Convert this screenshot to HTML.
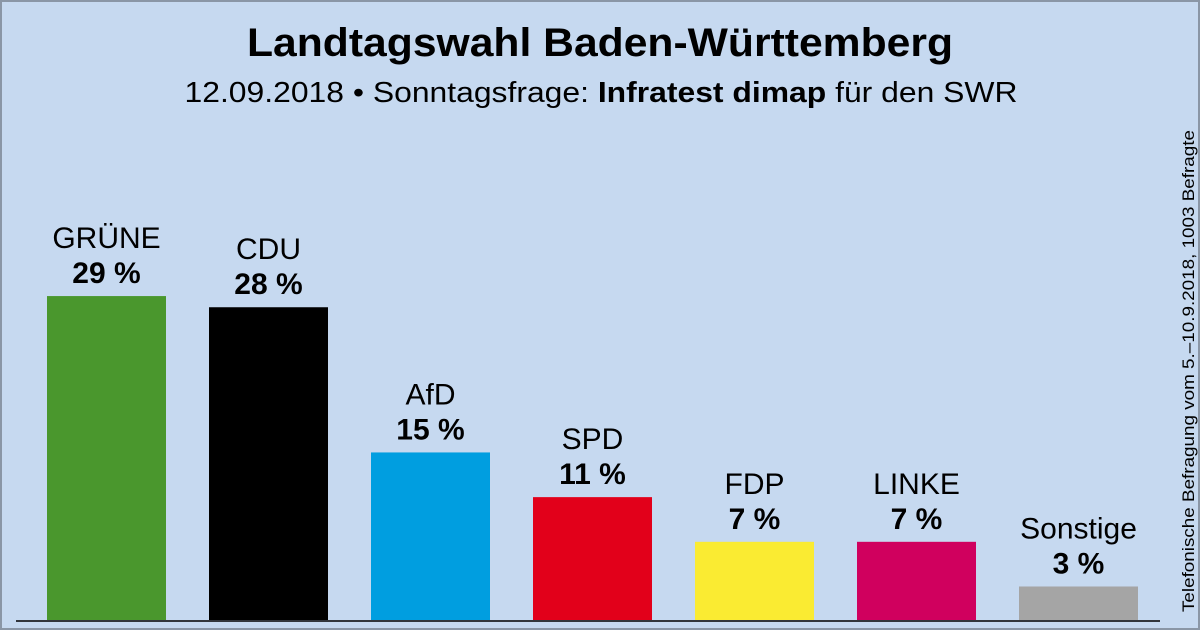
<!DOCTYPE html>
<html><head><meta charset="utf-8"><style>
body{margin:0;width:1200px;height:630px;overflow:hidden;font-family:"Liberation Sans",sans-serif}
#frame{position:absolute;left:0;top:0;width:1196px;height:626px;border:2px solid #8a96a6;background:#c6d9f0}
</style></head><body>
<div id="frame"></div>
<svg id="c" width="1200" height="630" style="position:absolute;left:0;top:0">
<text x="600" y="56" text-anchor="middle" font-size="40" font-weight="bold" fill="#000" textLength="706" lengthAdjust="spacingAndGlyphs">Landtagswahl Baden-Württemberg</text>
<text x="601" y="102" text-anchor="middle" font-size="29" fill="#000" textLength="833" lengthAdjust="spacingAndGlyphs">12.09.2018 • Sonntagsfrage: <tspan font-weight="bold">Infratest dimap</tspan> für den SWR</text>
<text transform="translate(1194,371) rotate(-90)" text-anchor="middle" font-size="17" fill="#000" textLength="482" lengthAdjust="spacingAndGlyphs">Telefonische Befragung vom 5.–10.9.2018, 1003 Befragte</text>
<line x1="16" y1="621" x2="1160" y2="621" stroke="#000" stroke-width="1.5"/>
<g id="bars"></g>
</svg>
<script>
const parties=["GRÜNE","CDU","AfD","SPD","FDP","LINKE","Sonstige"];
const values=[29,28,15,11,7,7,3];
const colors=["#4a972d","#000000","#009ee0","#e2001a","#faeb32","#d0005e","#a5a5a5"];
const base=620, scale=11.17, x0=47, step=162, bw=119;
const y=v=>base-v*scale;
const g=document.getElementById('bars');
const ns="http://www.w3.org/2000/svg";
parties.forEach((p,i)=>{
  const x=x0+i*step, top=y(values[i]);
  const r=document.createElementNS(ns,'rect');
  r.setAttribute('x',x);r.setAttribute('y',top);r.setAttribute('width',bw);r.setAttribute('height',base-top);r.setAttribute('fill',colors[i]);
  
  
  g.appendChild(r);
  const t=document.createElementNS(ns,'text');
  t.setAttribute('x',x+bw/2);t.setAttribute('y',top-48);t.setAttribute('text-anchor','middle');t.setAttribute('font-size','30');
  t.textContent=p;
  
  
  g.appendChild(t);
  const v=document.createElementNS(ns,'text');
  v.setAttribute('x',x+bw/2);v.setAttribute('y',top-13);v.setAttribute('text-anchor','middle');v.setAttribute('font-size','30');v.setAttribute('font-weight','bold');
  v.textContent=values[i]+' %';
  
  
  g.appendChild(v);
});
</script>
</body></html>
